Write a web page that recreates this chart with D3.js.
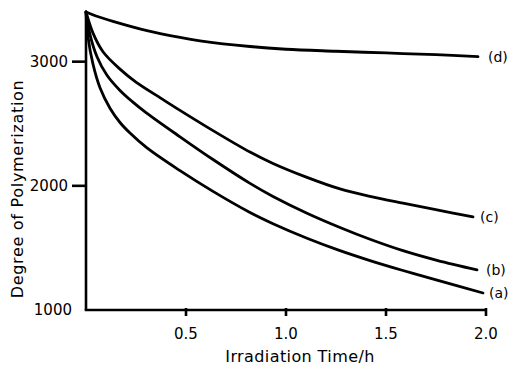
<!DOCTYPE html>
<html>
<head>
<meta charset="utf-8">
<script src="https://cdn.jsdelivr.net/npm/d3@7"></script>
<style>
  html, body { margin: 0; padding: 0; background: #fff; }
  svg { display: block; }
  text { font-family: "DejaVu Sans", sans-serif; fill: #000; }
</style>
</head>
<body>
<svg id="chart" width="511" height="366"></svg>
<script>
// ---- data ----
const seriesNames = ["(a)", "(b)", "(c)", "(d)"];
const seriesA = [[0,3400],[0.01,3200],[0.035,2980],[0.07,2790],[0.12,2625],[0.17,2510],[0.22,2425],[0.305,2305],[0.47,2122],[0.635,1955],[0.82,1785],[0.935,1695],[1.105,1578],[1.27,1478],[1.42,1398],[1.585,1318],[1.755,1240],[1.985,1137]];
const seriesB = [[0,3400],[0.02,3218],[0.055,3040],[0.105,2890],[0.17,2768],[0.23,2680],[0.3,2590],[0.47,2395],[0.635,2212],[0.82,2020],[0.935,1915],[1.105,1780],[1.27,1665],[1.42,1570],[1.585,1478],[1.755,1400],[1.955,1323]];
const seriesC = [[0,3400],[0.035,3230],[0.085,3080],[0.17,2940],[0.25,2835],[0.38,2700],[0.47,2608],[0.635,2445],[0.82,2272],[0.935,2180],[1.105,2068],[1.27,1975],[1.42,1915],[1.585,1860],[1.755,1806],[1.935,1750]];
const seriesD = [[0,3400],[0.05,3368],[0.135,3325],[0.305,3250],[0.47,3195],[0.57,3168],[0.82,3122],[1.0,3100],[1.25,3084],[1.5,3070],[1.75,3056],[1.96,3040]];
const xTicks = [0.5, 1.0, 1.5, 2.0];
const xTickLabels = ["0.5", "1.0", "1.5", "2.0"];
const yTicks = [1000, 2000, 3000];
const yTickLabels = ["1000", "2000", "3000"];
const xTitle = "Irradiation Time/h";
const yTitle = "Degree of Polymerization";

// ---- layout ----
const svg = d3.select("#chart");
const x = d3.scaleLinear().domain([0, 2]).range([86, 486]);
const y = d3.scaleLinear().domain([1000, 3400]).range([310, 12]);

const g = svg.append("g");

// axes lines
g.append("line").attr("x1", x(0)).attr("x2", x(0)).attr("y1", y(3400)).attr("y2", y(1000))
  .attr("stroke", "#000").attr("stroke-width", 2.6);
g.append("line").attr("x1", x(0) - 1.3).attr("x2", x(2)).attr("y1", y(1000)).attr("y2", y(1000))
  .attr("stroke", "#000").attr("stroke-width", 2.6);

// x ticks
xTicks.forEach((t, i) => {
  g.append("line").attr("x1", x(t)).attr("x2", x(t)).attr("y1", y(1000) - 2).attr("y2", y(1000) + 6)
    .attr("stroke", "#000").attr("stroke-width", 2.6);
  g.append("text").attr("x", x(t)).attr("y", 339).attr("text-anchor", "middle")
    .attr("font-size", 15).text(xTickLabels[i]);
});

// y ticks
yTicks.forEach((v, i) => {
  if (v !== 1000) {
    g.append("line").attr("x1", x(0) - 14).attr("x2", x(0)).attr("y1", y(v)).attr("y2", y(v))
      .attr("stroke", "#000").attr("stroke-width", 2.6);
  }
  g.append("text").attr("x", v === 1000 ? 72 : 68).attr("y", y(v)).attr("dy", "0.36em")
    .attr("text-anchor", "end").attr("font-size", 15).text(yTickLabels[i]);
});

// titles
g.append("text").attr("x", 300).attr("y", 362).attr("text-anchor", "middle")
  .attr("font-size", 16).attr("letter-spacing", 0.4).text(xTitle);
g.append("text").attr("transform", "translate(23,189) rotate(-90)").attr("text-anchor", "middle")
  .attr("font-size", 16).attr("letter-spacing", 0.7).text(yTitle);

// curves
const line = d3.line().x(d => x(d[0])).y(d => y(d[1])).curve(d3.curveCatmullRom.alpha(0.5));
const all = [seriesA, seriesB, seriesC, seriesD];
const labelDx = [6, 9, 7, 10];
all.forEach((s, i) => {
  g.append("path").attr("d", line(s)).attr("fill", "none").attr("stroke", "#000")
    .attr("stroke-width", 2.8).attr("stroke-linecap", "round").attr("stroke-linejoin", "round");
  const last = s[s.length - 1];
  g.append("text").attr("x", x(last[0]) + labelDx[i]).attr("y", y(last[1])).attr("dy", "0.35em")
    .attr("font-size", 14).text(seriesNames[i]);
});
</script>
</body>
</html>
